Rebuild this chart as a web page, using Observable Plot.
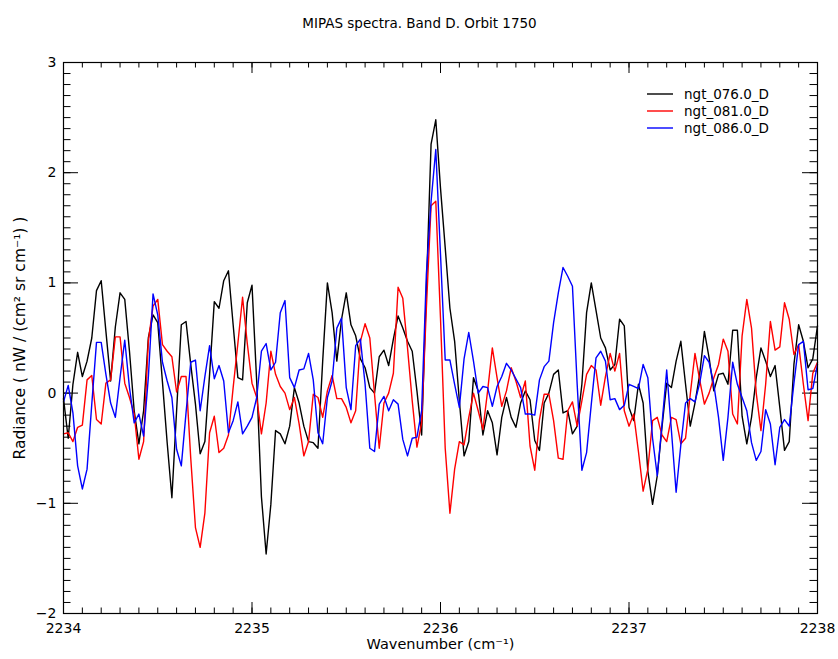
<!DOCTYPE html>
<html>
<head>
<meta charset="utf-8">
<script src="https://cdn.jsdelivr.net/npm/d3@7"></script>
<script src="https://cdn.jsdelivr.net/npm/@observablehq/plot@0.6"></script>
<style>
  html, body { margin: 0; padding: 0; background: white; }
</style>
</head>
<body>
<div id="chart"></div>
<script>
// ---- Data ----
const titleText = "MIPAS spectra. Band D. Orbit 1750";
const xLabel = "Wavenumber (cm⁻¹)";
const yLabel = "Radiance ( nW / (cm² sr cm⁻¹) )";

const wavenumberStart = 2234;
const wavenumberStep = 0.025;

const seriesNames = ["ngt_076.0_D", "ngt_081.0_D", "ngt_086.0_D"];
const seriesColors = ["#000000", "#ff0000", "#0000ff"];

const ngt076 = [
  -0.05,-0.41,0.08,0.37,0.15,0.29,0.50,0.93,1.02,0.56,
  0.11,0.60,0.91,0.85,0.38,-0.16,-0.46,-0.16,0.50,0.71,
  0.64,0.10,-0.45,-0.95,-0.16,0.62,0.65,0.26,-0.10,-0.55,
  -0.44,0.17,0.83,0.77,1.02,1.11,0.62,0.14,0.12,0.82,
  0.98,0.10,-0.94,-1.46,-1.01,-0.34,-0.37,-0.46,-0.30,0.05,
  -0.09,-0.30,-0.44,-0.45,-0.50,0.29,1.00,0.73,0.29,0.67,
  0.91,0.62,0.52,0.31,0.23,0.05,0.00,0.33,0.39,0.25,
  0.49,0.70,0.59,0.47,0.38,0.02,-0.38,0.94,2.26,2.48,
  1.86,1.32,0.77,0.47,-0.07,-0.57,-0.44,0.14,0.02,-0.38,
  -0.16,-0.27,-0.56,-0.22,-0.04,-0.22,-0.31,-0.09,0.02,-0.06,
  -0.43,-0.52,-0.09,0.00,0.17,0.21,-0.18,-0.16,-0.37,-0.30,
  0.08,0.73,1.00,0.75,0.50,0.41,0.21,0.26,0.67,0.61,
  -0.13,-0.25,0.08,-0.09,-0.71,-1.01,-0.75,-0.31,0.09,0.05,
  0.29,0.47,0.08,-0.30,-0.09,0.17,0.56,0.32,0.02,0.17,
  0.18,0.08,0.57,0.57,-0.21,-0.46,-0.22,0.14,0.41,0.29,
  0.15,0.25,-0.13,-0.52,-0.44,0.26,0.62,0.47,0.23,0.31,
  0.61
];
const ngt081 = [
  -0.37,-0.36,-0.44,-0.31,-0.29,0.12,0.16,-0.24,-0.28,0.09,
  0.12,0.51,0.51,0.09,-0.04,-0.19,-0.60,-0.44,0.47,0.79,
  0.85,0.44,0.38,0.33,0.01,0.15,0.15,-0.59,-1.22,-1.40,
  -1.09,-0.36,-0.21,-0.54,-0.50,-0.38,0.05,0.45,0.87,0.45,
  0.09,-0.04,-0.37,-0.09,0.38,0.17,0.06,0.00,-0.15,-0.04,
  -0.28,-0.57,-0.44,-0.01,-0.04,-0.22,0.02,0.16,-0.05,-0.05,
  -0.13,-0.27,-0.16,0.47,0.63,0.50,-0.01,-0.50,-0.09,0.00,
  0.18,0.96,0.86,0.41,-0.07,-0.49,-0.27,0.77,1.70,1.74,
  0.68,-0.50,-1.09,-0.69,-0.44,-0.47,-0.22,0.00,-0.16,-0.33,
  0.02,0.41,0.14,-0.12,0.02,0.23,0.11,-0.04,0.11,-0.48,
  -0.70,-0.24,-0.01,-0.01,-0.25,-0.59,-0.60,-0.16,-0.08,-0.30,
  -0.07,0.17,0.25,0.21,-0.11,0.15,0.36,0.20,0.36,-0.16,
  -0.30,-0.19,-0.53,-0.89,-0.69,-0.25,-0.22,-0.38,-0.44,-0.22,
  -0.24,-0.46,-0.41,-0.01,0.36,0.12,-0.10,0.00,0.14,0.26,
  0.49,0.38,-0.19,-0.28,0.52,0.85,0.59,0.00,-0.34,0.08,
  0.65,0.39,0.42,0.82,0.67,0.35,0.44,0.08,-0.25,0.18,
  0.28
];
const ngt086 = [
  -0.08,0.07,-0.18,-0.66,-0.87,-0.69,-0.10,0.46,0.46,0.17,
  -0.09,-0.22,0.14,0.48,0.05,-0.27,-0.19,-0.39,0.14,0.90,
  0.71,0.28,0.11,-0.04,-0.51,-0.66,-0.18,0.28,0.30,-0.16,
  0.15,0.43,0.13,0.25,0.11,-0.36,-0.25,-0.08,-0.37,-0.30,
  -0.22,-0.04,0.38,0.45,0.21,0.28,0.73,0.84,0.14,0.05,
  0.21,0.22,0.36,0.12,-0.36,-0.46,-0.04,0.11,0.59,0.68,
  0.05,-0.15,0.43,0.49,0.08,-0.50,-0.53,-0.10,-0.03,-0.16,
  -0.06,-0.10,-0.42,-0.57,-0.41,-0.40,-0.16,1.08,1.74,2.21,
  1.26,0.30,0.30,0.08,-0.13,0.31,0.55,0.29,0.00,0.06,
  0.05,-0.12,0.06,0.15,0.27,0.21,0.13,0.05,-0.19,-0.19,
  -0.20,0.12,0.24,0.29,0.64,0.91,1.14,1.06,0.97,0.08,
  -0.70,-0.54,-0.10,0.32,0.38,0.29,-0.06,-0.05,-0.15,-0.11,
  0.08,0.06,0.04,0.26,0.14,-0.41,-0.75,-0.28,0.21,-0.34,
  -0.90,-0.47,-0.09,-0.05,-0.08,0.09,0.34,0.28,0.08,-0.22,
  -0.61,-0.22,0.28,0.08,-0.04,-0.16,-0.45,-0.61,-0.53,-0.15,
  -0.28,-0.65,-0.31,-0.24,-0.30,0.09,0.44,0.47,0.03,0.04,
  0.26
];

const xTicks = [2234, 2235, 2236, 2237, 2238];
const yTicks = [-2, -1, 0, 1, 2, 3];
const xMinorStep = 0.1;
const yMinorStep = 0.1;

// ---- Build table ----
const seriesValues = [ngt076, ngt081, ngt086];
const rows = [];
seriesValues.forEach((vals, s) => {
  vals.forEach((v, i) => {
    rows.push({series: seriesNames[s], w: wavenumberStart + i * wavenumberStep, v});
  });
});

const xMinor = d3.range(Math.round((xTicks[xTicks.length-1]-xTicks[0])/xMinorStep)+1)
  .map(i => +(xTicks[0] + i*xMinorStep).toFixed(3));
const yMinor = d3.range(Math.round((yTicks[yTicks.length-1]-yTicks[0])/yMinorStep)+1)
  .map(i => +(yTicks[0] + i*yMinorStep).toFixed(3));

const W = 838, H = 659;
const mT = 62, mB = 46, mL = 63, mR = 21;
const fw = W - mL - mR, fh = H - mT - mB;
const xMajLen = 11, xMinLen = 5.5, yMajLen = 15, yMinLen = 7.5;

const chart = Plot.plot({
  width: W, height: H,
  marginTop: mT, marginBottom: mB, marginLeft: mL, marginRight: mR,
  style: {fontFamily: "DejaVu Sans, sans-serif", fontSize: "14px", background: "white", color: "black"},
  x: {domain: [xTicks[0], xTicks[xTicks.length-1]]},
  y: {domain: [yTicks[0], yTicks[yTicks.length-1]]},
  color: {domain: seriesNames, range: seriesColors},
  marks: [
    // minor/major ticks pointing inward on all four sides
    Plot.ruleX(xMinor, {x: d => d, insetTop: fh - xMinLen, stroke: "black"}),
    Plot.ruleX(xMinor, {x: d => d, insetBottom: fh - xMinLen, stroke: "black"}),
    Plot.ruleX(xTicks, {x: d => d, insetTop: fh - xMajLen, stroke: "black"}),
    Plot.ruleX(xTicks, {x: d => d, insetBottom: fh - xMajLen, stroke: "black"}),
    Plot.ruleY(yMinor, {y: d => d, insetRight: fw - yMinLen, stroke: "black"}),
    Plot.ruleY(yMinor, {y: d => d, insetLeft: fw - yMinLen, stroke: "black"}),
    Plot.ruleY(yTicks, {y: d => d, insetRight: fw - yMajLen, stroke: "black"}),
    Plot.ruleY(yTicks, {y: d => d, insetLeft: fw - yMajLen, stroke: "black"}),
    Plot.line(rows, {x: "w", y: "v", z: "series", stroke: "series", strokeWidth: 1.4}),
    Plot.frame({stroke: "black", strokeWidth: 1.2}),
    Plot.axisX({ticks: xTicks, tickSize: 0, tickPadding: 10, tickFormat: d => String(d), label: null, fontSize: 14}),
    Plot.axisY({ticks: yTicks, tickSize: 0, tickPadding: 7, label: null, fontSize: 14,
      tickFormat: d => d < 0 ? "−" + Math.abs(d) : String(d)}),
    Plot.text([titleText], {frameAnchor: "top", dy: -44, dx: -21, fontSize: 13.5, textAnchor: "middle"}),
    Plot.text([xLabel], {frameAnchor: "bottom", dy: 35, fontSize: 14.5, textAnchor: "middle"}),
    Plot.text([yLabel], {frameAnchor: "left", dx: -43, rotate: -90, fontSize: 15.5, textAnchor: "middle"})
  ]
});

// legend inside the frame (top-right)
const svg = d3.select(chart);
const lg = svg.append("g")
  .attr("font-family", "DejaVu Sans, sans-serif")
  .attr("font-size", 13.5)
  .attr("text-anchor", "start");
seriesNames.forEach((name, i) => {
  const y = 94 + 17 * i;
  lg.append("line").attr("x1", 647).attr("x2", 673).attr("y1", y).attr("y2", y)
    .attr("stroke", seriesColors[i]).attr("stroke-width", 1.4);
  lg.append("text").attr("x", 684).attr("y", y).attr("dy", "0.35em")
    .attr("text-anchor", "start").attr("fill", "black").text(name);
});

document.getElementById("chart").appendChild(chart);
</script>
</body>
</html>
